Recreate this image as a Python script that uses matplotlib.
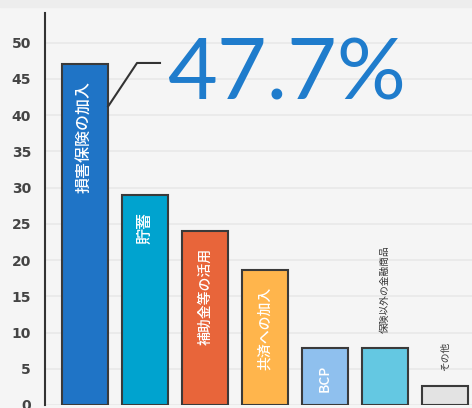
import matplotlib
matplotlib.use("Agg")
import matplotlib.pyplot as plt
from matplotlib.patches import Rectangle

plt.rcParams['font.family'] = ['Noto Sans CJK JP', 'DejaVu Sans']

categories = ["損害保険の加入", "貯蓄", "補助金等の活用", "共済への加入", "BCP", "保険以外の金融商品", "その他"]
values = [47.0, 29.0, 24.0, 18.6, 7.8, 7.8, 2.6]
colors = ["#1f74c6", "#00a3cf", "#e8653a", "#ffb54c", "#8fc0ee", "#64c8e2", "#e3e3e3"]
inside = [True, True, True, True, True, False, False]
label_size = [11.5, 11.5, 10, 10, 10, 7, 7]
yticks = [0, 5, 10, 15, 20, 25, 30, 35, 40, 45, 50]
highlight = "47.7%"

fig = plt.figure(figsize=(4.72, 4.08), dpi=100)
fig.patch.set_facecolor("#f5f5f5")
fig.patches.append(Rectangle((0, 0.983), 1, 0.017, transform=fig.transFigure,
                             color="#ededed", zorder=0))
ax = fig.add_axes([0.0953, 0.0074, 0.9047, 0.9608])
ax.set_facecolor("#f5f5f5")

x = range(len(categories))
ax.bar(x, values, width=0.77, color=colors, edgecolor="#3a3a3a", linewidth=1.5, zorder=3)

for i, (c, v) in enumerate(zip(categories, values)):
    if inside[i]:
        ax.annotate(c, (i, v), xytext=(0, -12), textcoords="offset points",
                    rotation=90, ha="center", va="top", color="white",
                    fontsize=label_size[i], fontweight="medium", zorder=4)
    else:
        ax.annotate(c, (i, v), xytext=(0, 11), textcoords="offset points",
                    rotation=90, ha="center", va="bottom", color="#333333",
                    fontsize=label_size[i], zorder=4)

# leader line and big percentage
ax.plot([0.385, 0.867, 1.25], [41.2, 47.2, 47.2], color="#333333", lw=1.5, zorder=4)
ax.text(3.35, 45.5, highlight, ha="center", va="center", color="#1f7ccc",
        fontsize=62, family="Lato", zorder=4)

ax.set_xlim(-0.667, 6.45)
ax.set_ylim(0, 54.1)
ax.set_yticks(yticks)
ax.set_xticks([])
ax.tick_params(axis="y", length=0, pad=10, labelsize=10, labelcolor="#444444")
for lab in ax.get_yticklabels():
    lab.set_fontweight("bold")
    lab.set_family("DejaVu Sans")
ax.grid(axis="y", color="#e8e8e8", lw=1.2, zorder=0)
for s in ["top", "right", "bottom"]:
    ax.spines[s].set_visible(False)
ax.spines["left"].set_color("#333333")
ax.spines["left"].set_linewidth(1.5)

fig.savefig("out.png", dpi=100, facecolor=fig.get_facecolor())
